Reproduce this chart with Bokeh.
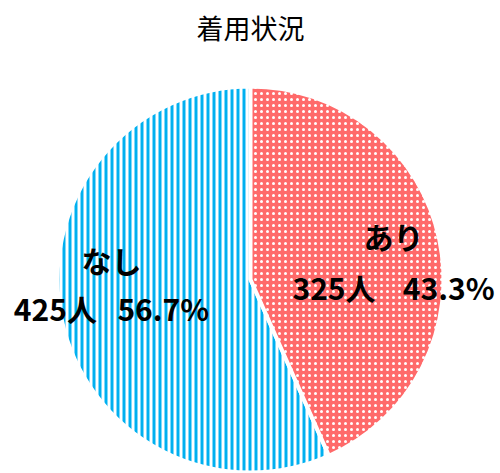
import math
from bokeh.plotting import figure
from bokeh.models import Range1d, ColumnDataSource
from bokeh.core.properties import value
from bokeh.embed import file_html
from bokeh.resources import INLINE

title_text = "着用状況"
categories = ["あり", "なし"]
counts = [325, 425]
percents = ["43.3%", "56.7%"]

W, H = 500, 473
p = figure(width=W, height=H, output_backend="svg", toolbar_location=None,
           x_range=Range1d(0, W), y_range=Range1d(0, H), min_border=0)
p.axis.visible = False
p.grid.visible = False
p.outline_line_color = None
p.background_fill_color = "white"

def sy(y):  # screen y -> data y
    return H - y
def sx(x):
    return x

total = sum(counts)
cx, cy, r = sx(250), sy(279), 193
frac_ari = counts[0] / total
a0 = math.pi / 2 - 2 * math.pi * frac_ari
a1 = math.pi / 2

# blue slice (なし)
p.wedge(x=cx, y=cy, radius=r, start_angle=a1, end_angle=a0 + 2 * math.pi,
        fill_color="white", hatch_pattern="vertical_line", hatch_color="#00B0F0",
        hatch_scale=6, hatch_weight=3, line_color="white", line_width=4)
# red slice (あり)
p.wedge(x=cx, y=cy, radius=r, start_angle=a0, end_angle=a1,
        fill_color="#FF6A6A", hatch_pattern="dot", hatch_color="white",
        hatch_scale=6, hatch_weight=1.5, line_color="white", line_width=4)

font = value("Noto Sans CJK JP")
p.text(x=[sx(250)], y=[sy(27)], text=[title_text], text_font=font,
       text_font_size="27px", text_align="center", text_baseline="middle",
       text_color="black")

NB = "\u00a0"
lab = ColumnDataSource(dict(
    x=[sx(393), sx(111)],
    y1=[sy(235), sy(259)],
    y2=[sy(286), sy(307)],
    t1=categories,
    t2=[f"{counts[0]}人{NB*4}{percents[0]}", f"{counts[1]}人{NB*3}{percents[1]}"],
))
p.text(x="x", y="y1", text="t1", source=lab, text_font=font, text_font_size="30px",
       text_font_style="bold", text_align="center", text_baseline="middle", text_color="black")
p.text(x="x", y="y2", text="t2", source=lab, text_font=font, text_font_size="30px",
       text_font_style="bold", text_align="center", text_baseline="middle", text_color="black")

open("out.html", "w").write(file_html(p, INLINE))
